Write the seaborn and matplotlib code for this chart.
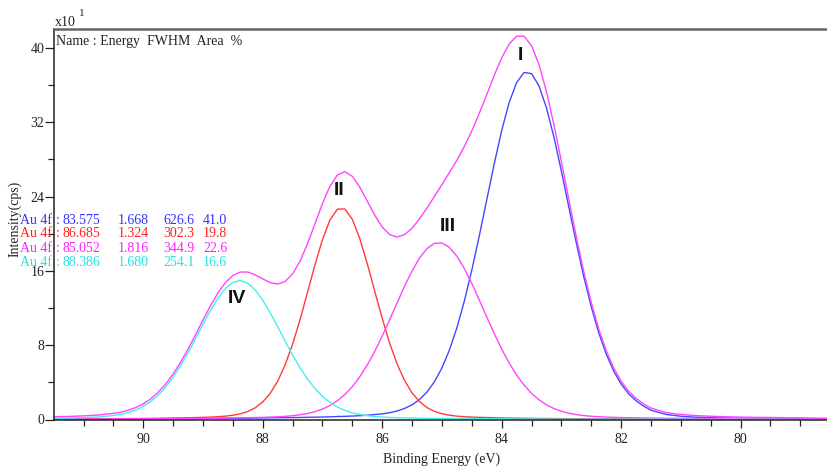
import numpy as np
import pandas as pd
import matplotlib
matplotlib.use("Agg")
import matplotlib.pyplot as plt
from matplotlib.ticker import MultipleLocator
import seaborn as sns

# ---------------- data ----------------
energy = [78.5, 78.75, 79.0, 79.25, 79.5, 79.75, 80.0, 80.25,
          80.5, 80.75, 81.0, 81.25, 81.5, 81.625, 81.75, 81.875,
          82.0, 82.125, 82.25, 82.375, 82.5, 82.625, 82.75, 82.875,
          83.0, 83.125, 83.25, 83.375, 83.5, 83.625, 83.75, 83.875,
          84.0, 84.125, 84.25, 84.375, 84.5, 84.625, 84.75, 84.875,
          85.0, 85.125, 85.25, 85.375, 85.5, 85.625, 85.75, 85.875,
          86.0, 86.125, 86.25, 86.375, 86.5, 86.625, 86.75, 86.875,
          87.0, 87.125, 87.25, 87.375, 87.5, 87.625, 87.75, 87.875,
          88.0, 88.125, 88.25, 88.375, 88.5, 88.625, 88.75, 88.875,
          89.0, 89.125, 89.25, 89.375, 89.5, 89.625, 89.75, 89.875,
          90.0, 90.125, 90.25, 90.375, 90.5, 90.75, 91.0, 91.25,
          91.5]

peak_I = [0.06, 0.07, 0.08, 0.09, 0.10, 0.11, 0.13, 0.16,
          0.20, 0.25, 0.35, 0.55, 1.00, 1.45, 2.02, 2.77,
          3.82, 5.22, 7.05, 9.34, 12.13, 15.37, 19.00, 22.85,
          26.74, 30.40, 33.55, 35.91, 37.23, 37.35, 36.26, 34.10,
          31.08, 27.50, 23.63, 19.75, 16.07, 12.74, 9.86, 7.47,
          5.55, 4.07, 2.96, 2.15, 1.58, 1.19, 0.92, 0.73,
          0.61, 0.53, 0.46, 0.41, 0.37, 0.34, 0.32, 0.29,
          0.27, 0.25, 0.24, 0.22, 0.21, 0.20, 0.19, 0.18,
          0.17, 0.16, 0.15, 0.14, 0.14, 0.13, 0.12, 0.12,
          0.11, 0.10, 0.10, 0.10, 0.09, 0.09, 0.09, 0.08,
          0.08, 0.08, 0.08, 0.07, 0.07, 0.07, 0.06, 0.06,
          0.05]

peak_II = [0.02, 0.02, 0.02, 0.02, 0.03, 0.03, 0.03, 0.03,
           0.03, 0.04, 0.04, 0.04, 0.05, 0.05, 0.05, 0.06,
           0.06, 0.06, 0.07, 0.07, 0.07, 0.08, 0.08, 0.09,
           0.09, 0.10, 0.11, 0.11, 0.12, 0.13, 0.14, 0.15,
           0.17, 0.19, 0.21, 0.23, 0.26, 0.30, 0.36, 0.46,
           0.62, 0.87, 1.28, 1.92, 2.86, 4.19, 5.97, 8.21,
           10.88, 13.81, 16.77, 19.47, 21.54, 22.66, 22.64, 21.47,
           19.37, 16.66, 13.69, 10.76, 8.11, 5.89, 4.12, 2.81,
           1.89, 1.26, 0.86, 0.61, 0.46, 0.36, 0.30, 0.26,
           0.23, 0.21, 0.19, 0.17, 0.16, 0.14, 0.13, 0.12,
           0.11, 0.10, 0.10, 0.09, 0.09, 0.08, 0.07, 0.06,
           0.06]

peak_III = [0.05, 0.05, 0.06, 0.06, 0.07, 0.07, 0.08, 0.09,
            0.10, 0.11, 0.12, 0.13, 0.15, 0.16, 0.18, 0.19,
            0.21, 0.23, 0.26, 0.30, 0.35, 0.42, 0.53, 0.68,
            0.89, 1.18, 1.58, 2.12, 2.82, 3.71, 4.79, 6.09,
            7.59, 9.26, 11.04, 12.87, 14.64, 16.25, 17.58, 18.53,
            19.00, 18.96, 18.40, 17.38, 15.99, 14.35, 12.56, 10.74,
            8.97, 7.33, 5.86, 4.60, 3.54, 2.69, 2.02, 1.51,
            1.12, 0.85, 0.65, 0.51, 0.41, 0.34, 0.29, 0.26,
            0.23, 0.21, 0.19, 0.17, 0.16, 0.15, 0.14, 0.13,
            0.12, 0.11, 0.11, 0.10, 0.10, 0.09, 0.09, 0.08,
            0.08, 0.08, 0.07, 0.07, 0.07, 0.06, 0.06, 0.05,
            0.05]

peak_IV = [0.01, 0.01, 0.02, 0.02, 0.02, 0.02, 0.02, 0.02,
           0.02, 0.02, 0.03, 0.03, 0.03, 0.03, 0.03, 0.03,
           0.03, 0.04, 0.04, 0.04, 0.04, 0.04, 0.04, 0.05,
           0.05, 0.05, 0.05, 0.06, 0.06, 0.06, 0.06, 0.07,
           0.07, 0.08, 0.08, 0.09, 0.09, 0.10, 0.10, 0.11,
           0.11, 0.12, 0.13, 0.14, 0.16, 0.17, 0.19, 0.22,
           0.26, 0.32, 0.41, 0.53, 0.72, 0.98, 1.34, 1.84,
           2.49, 3.32, 4.35, 5.56, 6.94, 8.43, 9.98, 11.48,
           12.84, 13.94, 14.67, 14.95, 14.75, 14.09, 13.06, 11.73,
           10.25, 8.70, 7.19, 5.79, 4.55, 3.49, 2.63, 1.94,
           1.42, 1.03, 0.76, 0.56, 0.43, 0.27, 0.20, 0.16,
           0.13]

comp_names = ["I", "II", "III", "IV"]
comp_colors = ["#4646ff", "#ff3a3a", "#ff44ff", "#44eeee"]
text_colors = ["#3333ff", "#ff2222", "#ff22ff", "#22e2e2"]
row_name = ["Au 4f", "Au 4f", "Au 4f", "Au 4f"]
row_energy = ["83.575", "86.685", "85.052", "88.386"]
row_fwhm = ["1.668", "1.324", "1.816", "1.680"]
row_area = ["626.6", "302.3", "344.9", "254.1"]
row_pct = ["41.0", "19.8", "22.6", "16.6"]

label_x = [83.68, 86.72, 84.90, 88.43]
label_y = [39.2, 24.6, 20.8, 13.0]

x_ticks = [90, 88, 86, 84, 82, 80]
y_ticks = [0, 8, 16, 24, 32, 40]

# ---------------- figure ----------------
sns.set_theme(style="ticks")
plt.rcParams["font.family"] = ["Liberation Serif", "DejaVu Serif"]

W, H = 828, 470
fig = plt.figure(figsize=(W / 100, H / 100), dpi=100)
left_px, right_px, top_px, bot_px = 54.3, 828, 28.8, 419.5
ax = fig.add_axes([left_px / W, 1 - bot_px / H,
                   (right_px - left_px) / W, (bot_px - top_px) / H])

series = {"I": peak_I, "II": peak_II, "III": peak_III, "IV": peak_IV}
rows = []
for name in comp_names:
    for e, v in zip(energy, series[name]):
        rows.append({"energy": e, "intensity": v, "component": name})
df = pd.DataFrame(rows)

envelope = np.array(peak_I) + np.array(peak_II) + np.array(peak_III) + np.array(peak_IV)
env_df = pd.DataFrame({"energy": energy, "intensity": envelope})

sns.lineplot(data=df, x="energy", y="intensity", hue="component",
             hue_order=comp_names, palette=dict(zip(comp_names, comp_colors)),
             estimator=None, sort=False, legend=False, linewidth=1.0, ax=ax)
sns.lineplot(data=env_df, x="energy", y="intensity", color="#ff44ff",
             estimator=None, sort=False, linewidth=1.0, ax=ax)

ax.set_xlim(91.49, 78.536)
ax.set_ylim(0, 42.05)
ax.set_xticks(x_ticks)
ax.set_yticks(y_ticks)
ax.xaxis.set_minor_locator(MultipleLocator(0.5))
ax.yaxis.set_minor_locator(MultipleLocator(4))
ax.tick_params(axis="x", which="major", direction="out", length=5.5, width=0.9,
               labelsize=10, pad=4, colors="#222222")
ax.tick_params(axis="x", which="minor", direction="out", length=4, width=0.9,
               colors="#222222")
ax.tick_params(axis="y", which="major", direction="out", length=6.5, width=0.9,
               labelsize=10, pad=0.5, colors="#222222")
ax.tick_params(axis="y", which="minor", direction="out", length=4, width=0.9,
               colors="#222222")
ax.set_xlabel("Binding Energy (eV)", fontsize=10, labelpad=5, color="#222222")
ax.set_ylabel("")
ax.grid(False)

for side in ["left", "bottom"]:
    ax.spines[side].set_color("#222222")
    ax.spines[side].set_linewidth(1.1)
ax.spines["top"].set_color("#666666")
ax.spines["top"].set_linewidth(1.8)
ax.spines["right"].set_visible(False)

# peak labels
for name, lx, ly in zip(comp_names, label_x, label_y):
    ax.text(lx, ly, name, ha="center", va="center", fontsize=14,
            fontweight="bold", family=["Liberation Sans", "DejaVu Sans"],
            color="#111111")

def ftext(px, py, s, **kw):
    fig.text(px / W, 1 - py / H, s, **kw)

ftext(15, 219, "Intensity(cps)", rotation=90, ha="center", va="center",
      fontsize=10, color="#222222")
ftext(55, 22.5, "x10", ha="left", va="center", fontsize=10, color="#222222")
ftext(79, 13, "1", ha="left", va="center", fontsize=8, color="#222222")
ftext(55.5, 41.5, "Name : Energy  FWHM  Area  %", ha="left", va="center",
      fontsize=10, color="#222222")

row_y = [220, 234, 248, 262]
for i in range(4):
    c = text_colors[i]
    ftext(20.5, row_y[i], row_name[i], ha="left", va="center", fontsize=10, color=c)
    ftext(56, row_y[i], ":", ha="left", va="center", fontsize=10, color=c)
    ftext(63, row_y[i], row_energy[i], ha="left", va="center", fontsize=10, color=c)
    ftext(118, row_y[i], row_fwhm[i], ha="left", va="center", fontsize=10, color=c)
    ftext(163, row_y[i], row_area[i], ha="left", va="center", fontsize=10, color=c)
    ftext(203, row_y[i], row_pct[i], ha="left", va="center", fontsize=10, color=c)

fig.savefig("out.png", dpi=100, facecolor="white")
